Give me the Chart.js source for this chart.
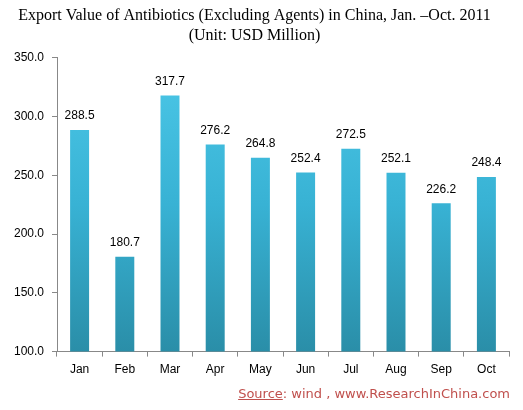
<!DOCTYPE html>
<html>
  <head>
    <title>Export Value of Antibiotics</title>
    <style>
      body {
        margin: 0;
        background: white;
      }

      .wrap{
        position: relative;
        width: 523px;
        height: 410px;
      }

      .source{
        position: absolute;
        right: 13px;
        top: 386px;
        font-family: "DejaVu Sans", sans-serif;
        font-size: 13px;
        color: #C0504D;
        white-space: nowrap;
      }

      .source u{
        text-decoration-color: #C0504D;
      }
    </style>
  </head>
  <body>
    <div class="wrap">
      <canvas id="exportChart" width="523" height="410"></canvas>
      <div class="source"><u>Source</u>: wind , www.ResearchInChina.com</div>
    </div>

    <script src="https://cdn.jsdelivr.net/npm/chart.js"></script>
    <script>
      // values
      const months = ['Jan', 'Feb', 'Mar', 'Apr', 'May', 'Jun', 'Jul', 'Aug', 'Sep', 'Oct'];
      const exportValues = [288.5, 180.7, 317.7, 276.2, 264.8, 252.4, 272.5, 252.1, 226.2, 248.4];
      const titleLines = ['Export Value of Antibiotics (Excluding Agents) in China, Jan. \u2013Oct. 2011', '(Unit: USD Million)'];

      const labelFont = '12px "Liberation Sans", Arial, sans-serif';

      // value labels above each bar
      const valueLabels = {
        id: 'valueLabels',
        afterDatasetsDraw(chart) {
          const ctx = chart.ctx;
          const meta = chart.getDatasetMeta(0);
          ctx.save();
          ctx.font = labelFont;
          ctx.fillStyle = '#000';
          ctx.textAlign = 'center';
          ctx.textBaseline = 'bottom';
          meta.data.forEach((bar, i) => {
            ctx.fillText(exportValues[i].toFixed(1), bar.x, bar.y - 8);
          });
          ctx.restore();
        }
      };

      function barFill(context) {
        const area = context.chart.chartArea;
        if (!area) return '#3BB4D6';
        const g = context.chart.ctx.createLinearGradient(0, area.top, 0, area.bottom);
        g.addColorStop(0, '#4CC8E8');
        g.addColorStop(0.5, '#38B2D4');
        g.addColorStop(1, '#2A8EA8');
        return g;
      }

      const chart = new Chart(document.getElementById('exportChart'), {
        type: 'bar',
        data: {
          labels: months,
          datasets: [{
            data: exportValues,
            backgroundColor: barFill,
            borderWidth: 0,
            barPercentage: 0.7,
            categoryPercentage: 0.6
          }]
        },
        options: {
          responsive: false,
          animation: false,
          layout: {
            padding: { left: 0, right: 14, top: 0, bottom: 27 }
          },
          plugins: {
            legend: { display: false },
            tooltip: { enabled: false },
            title: {
              display: true,
              text: titleLines,
              color: '#000',
              font: { family: '"Liberation Serif", "Times New Roman", serif', size: 16, weight: 'normal', lineHeight: 1.3 },
              padding: { top: 5, bottom: 11 }
            }
          },
          scales: {
            x: {
              offset: true,
              border: { color: '#888', width: 1 },
              grid: {
                offset: true,
                drawOnChartArea: false,
                color: '#888',
                tickLength: 5
              },
              ticks: {
                color: '#000',
                font: { family: '"Liberation Sans", Arial, sans-serif', size: 12 },
                padding: 6
              }
            },
            y: {
              min: 100,
              max: 350,
              afterFit(axis) { axis.width = 57; },
              border: { color: '#888', width: 1 },
              grid: {
                drawOnChartArea: false,
                color: '#888',
                tickLength: 5
              },
              ticks: {
                stepSize: 50,
                color: '#000',
                font: { family: '"Liberation Sans", Arial, sans-serif', size: 12 },
                padding: 8,
                callback: (v) => v.toFixed(1)
              }
            }
          }
        },
        plugins: [valueLabels]
      });
    </script>
  </body>
</html>
